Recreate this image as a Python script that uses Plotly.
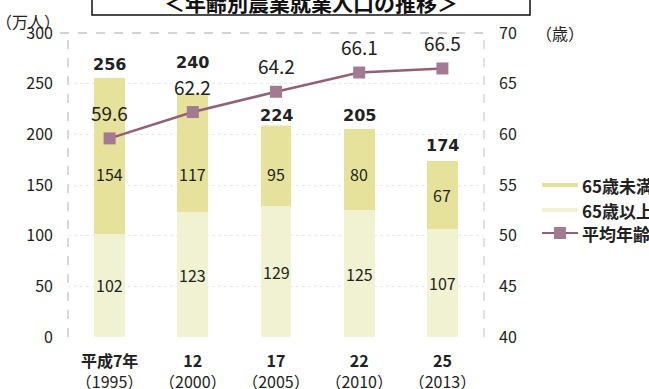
import plotly.graph_objects as go

# 年齢別農業就業人口（万人）と平均年齢（歳）
era_labels = ["平成7年", "12", "17", "22", "25"]
year_labels = ["（1995）", "（2000）", "（2005）", "（2010）", "（2013）"]
over65 = [102, 123, 129, 125, 107]      # 65歳以上
under65 = [154, 117, 95, 80, 67]        # 65歳未満
totals = [256, 240, 224, 205, 174]
avg_age = [59.6, 62.2, 64.2, 66.1, 66.5]

# pixel offsets of the total labels above each bar top
total_shift = [13, 31, -5, 14, 15]

C_UNDER = "#E6E29C"
C_OVER = "#F0F2D2"
C_LINE = "#93607A"
C_MARK = "#A27A92"
TXT = "#222222"
JP = "Noto Sans CJK JP, Noto Sans, sans-serif"

W, H = 649, 389
L, R, T, B = 68, 165, 33, 52
PW, PH = W - L - R, H - T - B


def px(x):
    return (x - L) / PW


def py(y):
    return (H - B - y) / PH


cats = [f"<b>{e}</b><br>{y}" for e, y in zip(era_labels, year_labels)]

fig = go.Figure()
fig.add_trace(go.Bar(x=cats, y=over65, name="65歳以上", marker=dict(color=C_OVER, line=dict(width=0)),
                     width=0.37, showlegend=False))
fig.add_trace(go.Bar(x=cats, y=under65, name="65歳未満", marker=dict(color=C_UNDER, line=dict(width=0)),
                     width=0.37, showlegend=False))
fig.add_trace(go.Scatter(x=cats, y=avg_age, name="平均年齢", yaxis="y2", mode="lines+markers",
                         line=dict(color=C_LINE, width=2.5),
                         marker=dict(symbol="square", size=12, color=C_MARK, line=dict(width=0)),
                         showlegend=False))

ann = []
for i, c in enumerate(cats):
    lo, up = over65[i], under65[i]
    # 65歳以上 (lower segment)
    ann.append(dict(x=c, y=lo / 2, xref="x", yref="y", text=str(lo), showarrow=False,
                    yanchor="middle", font=dict(family=JP, size=16, color=TXT)))
    # 65歳未満 (upper segment)
    ann.append(dict(x=c, y=min(lo + up / 2, 161), xref="x", yref="y", text=str(up), showarrow=False,
                    yanchor="middle", font=dict(family=JP, size=16, color=TXT)))
    # total
    ann.append(dict(x=c, y=totals[i], xref="x", yref="y", text=str(totals[i]), showarrow=False,
                    yanchor="middle", yshift=total_shift[i], bgcolor="white", borderpad=0,
                    font=dict(family="DejaVu Sans", size=16, color=TXT, weight="bold")))
    # average age
    ann.append(dict(x=c, y=avg_age[i], xref="x", yref="y2", text=f"{avg_age[i]:.1f}", showarrow=False,
                    yanchor="middle", yshift=26, font=dict(family=JP, size=19, color=TXT)))

# unit labels
ann.append(dict(x=px(28), y=py(21), xref="paper", yref="paper", text="（万人）", showarrow=False,
                xanchor="center", yanchor="middle", font=dict(family=JP, size=16, color=TXT)))
ann.append(dict(x=px(534), y=py(33), xref="paper", yref="paper", text="（歳）", showarrow=False,
                xanchor="left", yanchor="middle", font=dict(family=JP, size=16, color=TXT)))

# heading, boxed at the top edge
ann.append(dict(x=px(311), y=py(2), xref="paper", yref="paper", text="＜年齢別農業就業人口の推移＞",
                showarrow=False, xanchor="center", yanchor="middle",
                font=dict(family=JP, size=21, color="#111", weight="bold")))

# legend
leg_items = [("65歳未満", 185), ("65歳以上", 210), ("平均年齢", 233)]
for name, yy in leg_items:
    ann.append(dict(x=px(580), y=py(yy), xref="paper", yref="paper", text=name, showarrow=False,
                    xanchor="left", yanchor="middle",
                    font=dict(family=JP, size=17, color=TXT, weight="bold")))

shapes = [
    # heading box
    dict(type="rect", xref="paper", yref="paper", x0=px(92), x1=px(530), y0=py(15), y1=py(-20),
         line=dict(color="#111", width=1.5), fillcolor="rgba(0,0,0,0)"),
    # dashed frame
    dict(type="line", xref="paper", yref="paper", x0=px(60), x1=1, y0=1, y1=1,
         line=dict(color="#A8A8A8", width=1, dash="dash"), layer="below"),
    dict(type="line", xref="paper", yref="paper", x0=0, x1=0, y0=0, y1=py(40),
         line=dict(color="#B0B0B0", width=1, dash="dash"), layer="below"),
    dict(type="line", xref="paper", yref="paper", x0=1, x1=1, y0=0, y1=1,
         line=dict(color="#C0C0C0", width=1, dash="dash"), layer="below"),
    # legend swatches
    dict(type="rect", xref="paper", yref="paper", x0=px(542), x1=px(578), y0=py(187), y1=py(183),
         line=dict(width=0), fillcolor=C_UNDER),
    dict(type="rect", xref="paper", yref="paper", x0=px(542), x1=px(578), y0=py(212), y1=py(208),
         line=dict(width=0), fillcolor=C_OVER),
    dict(type="line", xref="paper", yref="paper", x0=px(542), x1=px(578), y0=py(233), y1=py(233),
         line=dict(color=C_LINE, width=2)),
    dict(type="rect", xref="paper", yref="paper", x0=px(554), x1=px(566), y0=py(239), y1=py(227),
         line=dict(width=0), fillcolor=C_MARK),
]

fig.update_layout(
    width=W, height=H,
    margin=dict(l=L, r=R, t=T, b=B, autoexpand=False),
    paper_bgcolor="white", plot_bgcolor="white",
    barmode="stack", bargap=0.63,
    font=dict(family=JP, color=TXT),
    xaxis=dict(type="category", showline=False, showgrid=False, zeroline=False, ticks="",
               tickfont=dict(family=JP, size=16, color=TXT), ticklabelstandoff=13, automargin=False),
    yaxis=dict(range=[0, 300], dtick=50, showline=False, zeroline=False,
               showgrid=True, gridcolor="#E8E8E8", griddash="dot", gridwidth=1,
               tickfont=dict(family=JP, size=16, color=TXT), ticks="", ticklabelstandoff=14,
               automargin=False),
    yaxis2=dict(range=[40, 70], dtick=5, overlaying="y", side="right", showline=False,
                showgrid=False, zeroline=False, ticks="",
                tickfont=dict(family=JP, size=16, color=TXT), ticklabelstandoff=14, automargin=False),
    showlegend=False,
    annotations=ann,
    shapes=shapes,
)

fig.write_html("out.html")
